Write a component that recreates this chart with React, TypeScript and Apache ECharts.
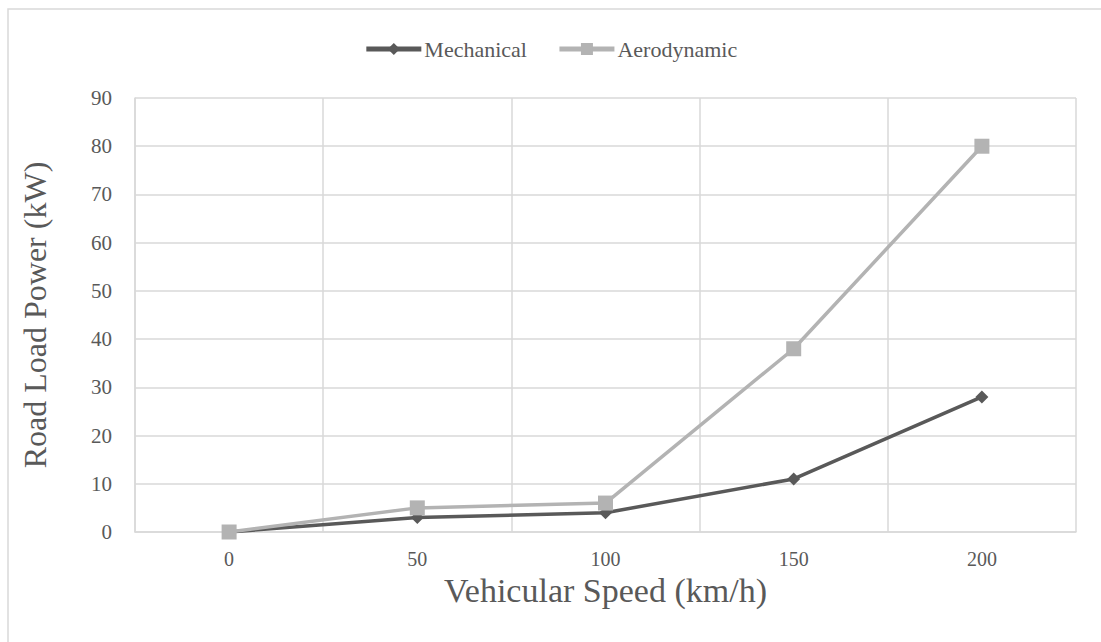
import React, { useEffect, useRef } from "react";
import * as echarts from "echarts";

const speeds = ["0", "50", "100", "150", "200"];
const mechanical = [0, 3, 4, 11, 28];
const aerodynamic = [0, 5, 6, 38, 80];
const yTicks = { min: 0, max: 90, interval: 10 };

const DARK = "#595959";
const LIGHT = "#b3b3b3";
const GRID = "#d9d9d9";
const LABEL_FONT = "'Liberation Serif', serif";
const TITLE_FONT = "'Liberation Serif', serif";

export default function App() {
  const ref = useRef<HTMLDivElement>(null);

  useEffect(() => {
    if (!ref.current) return;
    const chart = echarts.init(ref.current, undefined, { renderer: "svg" });
    chart.setOption({
      animation: false,
      backgroundColor: "#ffffff",
      graphic: [
        {
          type: "polyline",
          shape: { points: [[8, 700], [8, 9], [1200, 9]] },
          style: { stroke: "#d9d9d9", lineWidth: 1.5, fill: null },
          silent: true,
        },
      ],
      legend: {
        top: 33,
        left: "center",
        itemWidth: 55,
        itemHeight: 15,
        itemGap: 30,
        lineStyle: { width: 5 },
        textStyle: { fontFamily: LABEL_FONT, fontSize: 22, color: DARK, padding: [0, 0, 0, -2] },
        data: ["Mechanical", "Aerodynamic"],
      },
      grid: { left: 135, right: 25, top: 98, bottom: 110, containLabel: false },
      xAxis: {
        type: "category",
        data: speeds,
        boundaryGap: true,
        name: "Vehicular Speed (km/h)",
        nameLocation: "middle",
        nameGap: 38,
        nameTextStyle: { fontFamily: TITLE_FONT, fontSize: 34, color: DARK },
        axisLine: { show: true, lineStyle: { color: GRID, width: 1.5 } },
        axisTick: { show: false },
        axisLabel: { fontFamily: LABEL_FONT, fontSize: 20, color: DARK, margin: 17 },
        splitLine: { show: true, lineStyle: { color: GRID, width: 1.5 } },
      },
      yAxis: {
        type: "value",
        min: yTicks.min,
        max: yTicks.max,
        interval: yTicks.interval,
        name: "Road Load Power (kW)",
        nameLocation: "middle",
        nameGap: 84,
        nameTextStyle: { fontFamily: TITLE_FONT, fontSize: 32, color: DARK },
        axisLine: { show: true, lineStyle: { color: GRID, width: 1.5 } },
        axisTick: { show: false },
        axisLabel: { fontFamily: LABEL_FONT, fontSize: 21, color: DARK, margin: 23 },
        splitLine: { show: true, lineStyle: { color: GRID, width: 1.5 } },
      },
      series: [
        {
          name: "Mechanical",
          type: "line",
          data: mechanical,
          symbol: "diamond",
          symbolSize: 13,
          lineStyle: { color: DARK, width: 3.5 },
          itemStyle: { color: DARK },
        },
        {
          name: "Aerodynamic",
          type: "line",
          data: aerodynamic,
          symbol: "rect",
          symbolSize: 15,
          lineStyle: { color: LIGHT, width: 3.5 },
          itemStyle: { color: LIGHT },
        },
      ],
    });
    return () => chart.dispose();
  }, []);

  return (
    <div
      ref={ref}
      style={{ position: "absolute", left: 0, top: 0, width: 1101, height: 642 }}
    />
  );
}
